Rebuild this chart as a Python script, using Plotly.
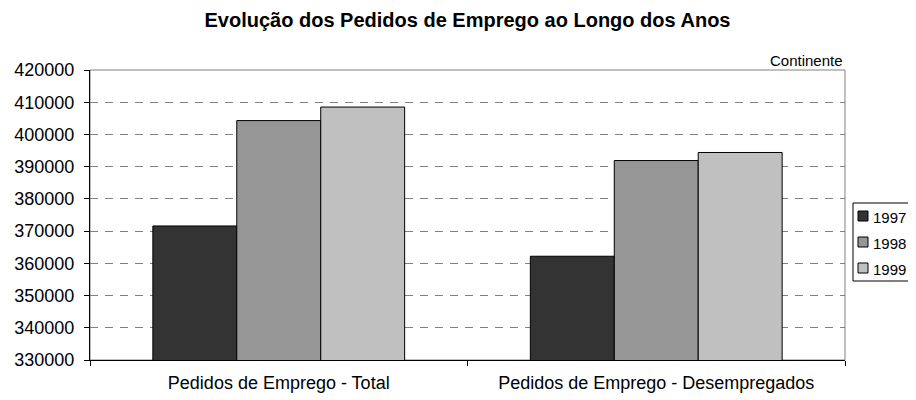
import plotly.graph_objects as go

categories = ["Pedidos de Emprego - Total", "Pedidos de Emprego - Desempregados"]
years = ["1997", "1998", "1999"]
pedidos_1997 = [371600, 362200]
pedidos_1998 = [404300, 391900]
pedidos_1999 = [408500, 394400]
y_ticks = list(range(330000, 420001, 10000))

colors = {"1997": "#333333", "1998": "#969696", "1999": "#c0c0c0"}
series = {"1997": pedidos_1997, "1998": pedidos_1998, "1999": pedidos_1999}

FONT = "Liberation Sans, Arial, sans-serif"
# a página tem 8px de margem no body: a figura começa em (8, 8)
OFF = 8
W, H = 916 - OFF, 400 - OFF
L, R, T, B = 82, 71, 62, 40


def px_x(p):
    # p em pixels da janela -> coordenada paper
    return (p - OFF - L) / (W - L - R)


def px_y(p):
    return (H - B - (p - OFF)) / (H - T - B)


fig = go.Figure()
for yr in years:
    fig.add_trace(go.Bar(
        x=categories, y=series[yr], name=yr, showlegend=False,
        marker=dict(color=colors[yr], line=dict(color="#000000", width=1)),
    ))

# borda da área do gráfico (cinza, topo e direita)
fig.add_shape(type="rect", xref="paper", yref="paper", x0=0, x1=1, y0=0, y1=1,
              line=dict(color="#808080", width=1), layer="below")

fig.add_annotation(text="Continente", xref="paper", yref="paper", x=1, y=1,
                   xanchor="right", yanchor="bottom", showarrow=False, yshift=-1,
                   font=dict(size=15, color="#000000", family=FONT))

# legenda no estilo Excel (caixa encostada à margem direita)
fig.add_shape(type="rect", xref="paper", yref="paper",
              x0=px_x(853), x1=px_x(915), y0=px_y(281), y1=px_y(203),
              line=dict(color="#000000", width=1), fillcolor="white")
for i, yr in enumerate(years):
    cy = 216 + 26 * i
    fig.add_shape(type="rect", xref="paper", yref="paper",
                  x0=px_x(858), x1=px_x(868), y0=px_y(cy + 5), y1=px_y(cy - 5),
                  line=dict(color="#000000", width=1), fillcolor=colors[yr])
    fig.add_annotation(text=yr, xref="paper", yref="paper", x=px_x(871), y=px_y(cy + 1),
                       xanchor="left", yanchor="middle", showarrow=False,
                       font=dict(size=15, color="#000000", family=FONT))

fig.update_layout(
    width=W, height=H,
    margin=dict(l=L, r=R, t=T, b=B),
    paper_bgcolor="white", plot_bgcolor="white",
    barmode="group", bargap=0.333, bargroupgap=0,
    font=dict(family=FONT, color="#000000"),
    showlegend=False,
    title=dict(text="<b>Evolução dos Pedidos de Emprego ao Longo dos Anos</b>",
               x=0.5, xref="paper", xanchor="center",
               y=1 - 12 / H, yref="container", yanchor="middle",
               font=dict(size=20, family=FONT, color="#000000")),
)
fig.update_xaxes(
    showline=True, linecolor="#000000", linewidth=1, automargin=False,
    ticks="outside", ticklen=5, tickcolor="#000000", tickson="boundaries",
    tickfont=dict(size=18, family=FONT, color="#000000"),
    ticklabelstandoff=6, showgrid=False,
)
fig.update_yaxes(
    range=[330000, 420000], tickvals=y_ticks, tickformat="d", automargin=False,
    showline=True, linecolor="#000000", linewidth=1,
    ticks="outside", ticklen=5, tickcolor="#000000",
    tickfont=dict(size=18, family=FONT, color="#000000"),
    ticklabelstandoff=6,
    showgrid=True, gridcolor="#808080", gridwidth=1, griddash="8px,7px",
    zeroline=False,
)

fig.write_html("out.html")
